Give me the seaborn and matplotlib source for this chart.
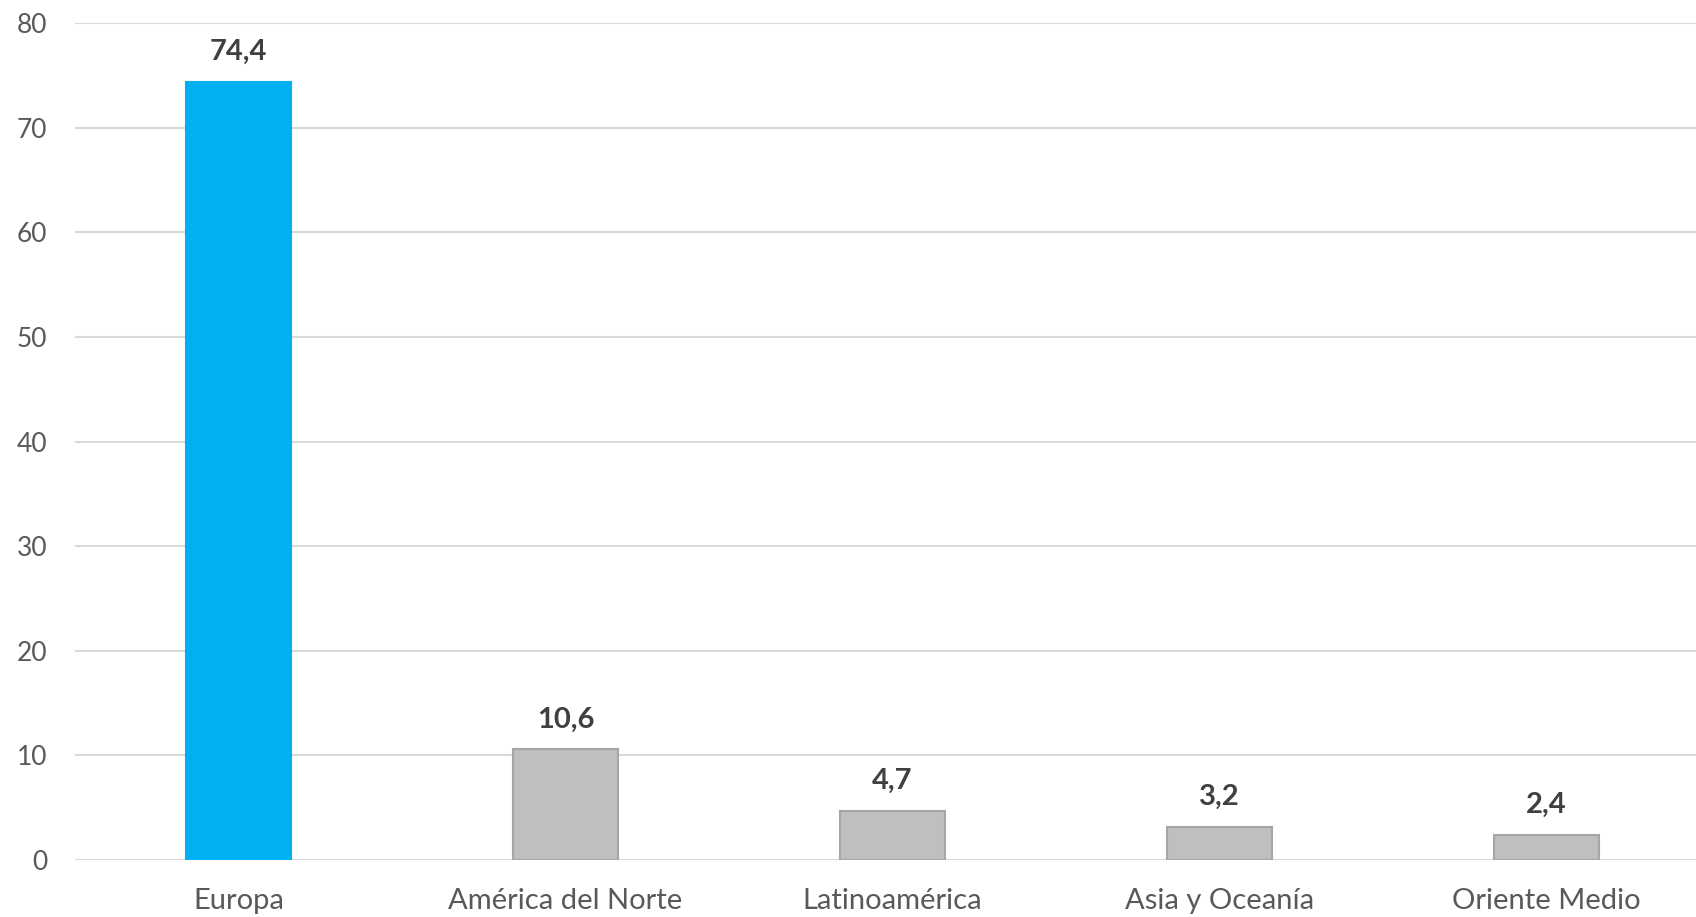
import numpy as np
import pandas as pd
import matplotlib.pyplot as plt
import seaborn as sns

# data
regions = ["Europa", "América del Norte", "Latinoamérica", "Asia y Oceanía", "Oriente Medio"]
values = [74.4, 10.6, 4.7, 3.2, 2.4]
bar_colors = ["#00B0F0", "#BFBFBF", "#BFBFBF", "#BFBFBF", "#BFBFBF"]
edge_colors = ["#00B0F0", "#A6A6A6", "#A6A6A6", "#A6A6A6", "#A6A6A6"]

df = pd.DataFrame({"Region": regions, "Valor": values})

sns.set_style("white")
plt.rcParams["font.family"] = ["Lato", "DejaVu Sans"]

fig = plt.figure(figsize=(16.96, 9.17), dpi=100)
ax = fig.add_axes([75 / 1696, 1 - 860 / 917, 1635 / 1696, (860 - 23) / 917])

sns.barplot(
    data=df,
    x="Region",
    y="Valor",
    hue="Region",
    palette=dict(zip(regions, bar_colors)),
    saturation=1,
    width=0.32,
    legend=False,
    ax=ax,
    zorder=3,
)

for patch, ec in zip(ax.patches, edge_colors):
    patch.set_edgecolor(ec)
    patch.set_linewidth(1.5)

# value labels
for i, v in enumerate(values):
    ax.annotate(
        f"{v:.1f}".replace(".", ","),
        xy=(i, v),
        xytext=(0, 12),
        textcoords="offset points",
        ha="center",
        va="bottom",
        fontsize=21,
        fontweight="bold",
        color="#404040",
    )

ax.set_ylim(0, 80)
ax.set_xlim(-0.5, 4.5)
ax.set_yticks(range(0, 81, 10))
ax.yaxis.grid(True, color="#D9D9D9", linewidth=1.5, zorder=0)
ax.set_axisbelow(True)

for s in ax.spines.values():
    s.set_visible(False)

ax.set_xlabel("")
ax.set_ylabel("")
ax.tick_params(axis="both", length=0, labelcolor="#595959")
ax.tick_params(axis="y", labelsize=19, pad=20)
ax.tick_params(axis="x", labelsize=21, pad=20)

plt.savefig("out.png", dpi=100)
